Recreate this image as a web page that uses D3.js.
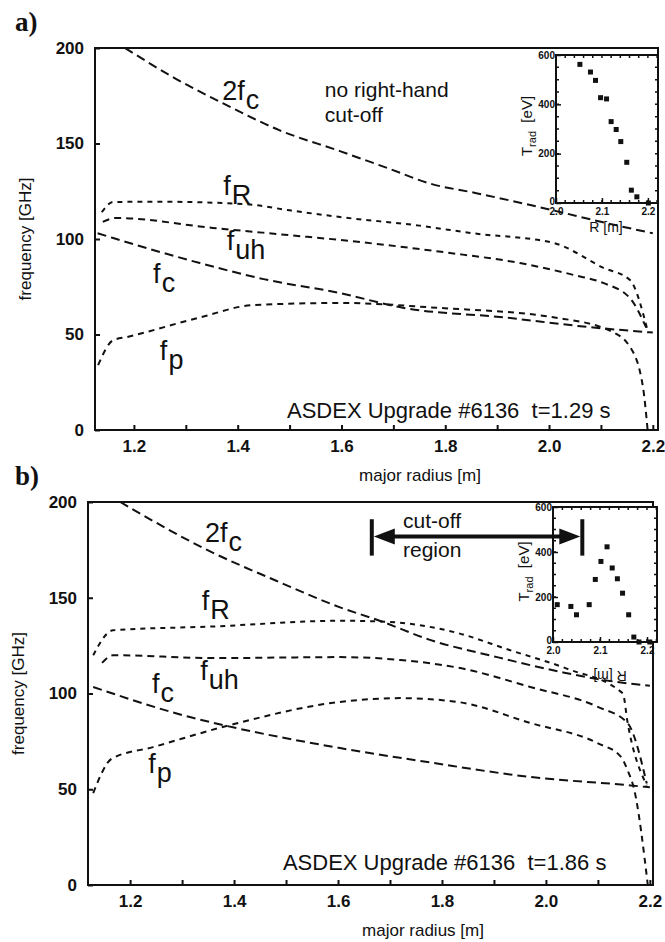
<!DOCTYPE html>
<html>
<head>
<meta charset="utf-8">
<script src="https://cdn.jsdelivr.net/npm/d3@7"></script>
<style>
  body { margin: 0; background: #fff; }
  text { font-family: "Liberation Sans", Arial, sans-serif; fill: #111; }
</style>
</head>
<body>
<div id="chart"></div>
<script>
const width = 665;
const height = 942;

// panel a) t=1.29 s : [major radius (m), frequency (GHz)]
const a2fc = [[1.183, 200], [1.28, 184], [1.372, 171], [1.48, 157], [1.597, 146], [1.69, 137],
    [1.771, 129], [1.86, 124], [1.944, 119], [2.008, 115], [2.1, 109], [2.2, 103]];
const aFR = [[1.138, 114], [1.16, 119.4], [1.25, 119.5], [1.414, 118.3], [1.5, 115], [1.597, 111.5],
    [1.75, 107], [1.853, 103], [2.008, 98], [2.104, 85], [2.156, 78.5], [2.19, 52]];
const aFuh = [[1.14, 109], [1.165, 111], [1.352, 105.8], [1.5, 102], [1.597, 99.5], [1.8, 93],
    [1.944, 87.4], [2.05, 81], [2.104, 77], [2.156, 69], [2.19, 52]];
const aFc = [[1.13, 103], [1.16, 100.5], [1.327, 87.4], [1.45, 79], [1.597, 71.7], [1.718, 64],
    [1.911, 59], [2.073, 54], [2.2, 51]];
const aFp = [[1.131, 34], [1.16, 47], [1.187, 48.7], [1.328, 59], [1.43, 65.4], [1.6, 66.5],
    [1.784, 64], [2.008, 59], [2.117, 52], [2.156, 43.5], [2.181, 22.5], [2.19, 0]];

// panel b) t=1.86 s
const b2fc = [[1.181, 200], [1.348, 175], [1.48, 159], [1.604, 145], [1.68, 138], [1.777, 128],
    [1.906, 119], [2.033, 111], [2.1, 107.5], [2.2, 104]];
const bFR = [[1.129, 120], [1.167, 133], [1.36, 135], [1.604, 138], [1.69, 137.5], [1.83, 131.6],
    [1.93, 122.7], [2.04, 113], [2.148, 100], [2.157, 85], [2.194, 52]];
const bFuh = [[1.146, 116], [1.167, 120], [1.36, 118.5], [1.604, 119], [1.72, 117.5], [1.84, 113],
    [1.97, 103.4], [2.1, 93], [2.157, 84.6], [2.194, 53]];
const bFc = [[1.129, 103.4], [1.315, 87.7], [1.379, 83.5], [1.604, 71.5], [1.777, 64],
    [1.97, 56.4], [2.163, 52], [2.2, 51]];
const bFp = [[1.129, 48], [1.165, 66], [1.244, 72], [1.392, 83.5], [1.604, 95.6], [1.72, 97.6],
    [1.83, 95.6], [1.97, 84.6], [2.1, 74], [2.144, 67], [2.157, 60], [2.17, 49.6], [2.196, 0]];

// insets: radiation temperature T_rad (eV) vs R (m)
const insetAR = [2.052, 2.075, 2.086, 2.097, 2.110, 2.120, 2.131, 2.141, 2.154, 2.164, 2.176, 2.201];
const insetAT = [562, 531, 497, 427, 422, 330, 298, 249, 165, 52, 25, 0];
const insetBR = [2.009, 2.038, 2.050, 2.077, 2.090, 2.102, 2.115, 2.126, 2.137, 2.148, 2.161, 2.172, 2.183, 2.206];
const insetBT = [166, 158, 121, 166, 278, 358, 423, 329, 281, 217, 121, 22, 0, 0];

const radiusTicks = [1.2, 1.3, 1.4, 1.5, 1.6, 1.7, 1.8, 1.9, 2.0, 2.1, 2.2];
const freqTicks = [0, 50, 100, 150, 200];
const insetRTicks = [2.0, 2.1, 2.2];
const insetTTicks = [0, 200, 400, 600];
const captions = ["ASDEX Upgrade #6136  t=1.29 s", "ASDEX Upgrade #6136  t=1.86 s"];
const cutoffRegion = [1.665, 2.07];

const dashes = { "2fc": "9,5", "fR": "5,5", "fuh": "7,5", "fc": "9,5", "fp": "6,5" };
const subs = { "2fc": ["2f", "c"], "fR": ["f", "R"], "fuh": ["f", "uh"], "fc": ["f", "c"], "fp": ["f", "p"] };

const svg = d3.select("#chart")
    .append("svg")
    .attr("width", width)
    .attr("height", height);

svg.append("rect").attr("width", width).attr("height", height).attr("fill", "#fff");

function drawPanel(p) {
    const x = d3.scaleLinear().domain(p.xDomain).range([p.left, p.right]);
    const y = d3.scaleLinear().domain([0, 200]).range([p.bottom, p.top]);
    const g = svg.append("g");

    g.append("clipPath").attr("id", "clip" + p.id)
        .append("rect")
        .attr("x", p.left).attr("y", p.top)
        .attr("width", p.right - p.left).attr("height", p.bottom - p.top);

    // dashed curves
    const line = d3.line()
        .x(d => x(d[0]))
        .y(d => y(d[1]))
        .curve(d3.curveMonotoneX);
    g.append("g").attr("clip-path", `url(#clip${p.id})`)
        .selectAll("path")
        .data(p.curves)
        .enter()
        .append("path")
        .attr("d", d => line(d.values))
        .attr("fill", "none")
        .attr("stroke", "#111")
        .attr("stroke-width", 2)
        .attr("stroke-dasharray", d => dashes[d.name]);

    // axes, ticks point inwards
    const xAxis = g.append("g")
        .attr("transform", `translate(0,${p.bottom})`)
        .call(d3.axisBottom(x).tickValues(radiusTicks).tickSizeInner(-5).tickSizeOuter(0).tickPadding(10)
            .tickFormat(d => Math.round(d * 10) % 2 === 0 ? d.toFixed(1) : ""));
    const yAxis = g.append("g")
        .attr("transform", `translate(${p.left},0)`)
        .call(d3.axisLeft(y).tickValues(freqTicks).tickSizeInner(-5).tickSizeOuter(0).tickPadding(11));
    [xAxis, yAxis].forEach(a => {
        a.select(".domain").remove();
        a.attr("font-family", null).attr("font-size", null);
        a.selectAll("line").attr("stroke", "#111").attr("stroke-width", 2);
        a.selectAll("text").style("font-size", "17px").style("font-weight", "bold");
    });

    // frame
    g.append("rect")
        .attr("x", p.left).attr("y", p.top)
        .attr("width", p.right - p.left).attr("height", p.bottom - p.top)
        .attr("fill", "none").attr("stroke", "#111").attr("stroke-width", 2);

    // axis titles
    g.append("text")
        .attr("transform", `translate(${p.left - 64},${(p.top + p.bottom) / 2}) rotate(-90)`)
        .attr("text-anchor", "middle")
        .style("font-size", "17px")
        .text("frequency [GHz]");
    g.append("text")
        .attr("x", p.xTitle).attr("y", p.bottom + 51)
        .attr("text-anchor", "middle")
        .style("font-size", "17px")
        .text("major radius [m]");

    // panel letter
    g.append("text")
        .attr("x", 15).attr("y", p.top - 17)
        .style("font-family", "'Liberation Serif', serif")
        .style("font-size", "27px")
        .style("font-weight", "bold")
        .text(p.id + ")");

    // curve names with subscripts
    p.labels.forEach(l => {
        const t = g.append("text")
            .attr("x", x(l.at[0])).attr("y", y(l.at[1]))
            .style("font-size", "27px");
        t.append("tspan").text(subs[l.name][0]);
        t.append("tspan").attr("dx", 1).attr("dy", 9).text(subs[l.name][1]);
    });

    g.append("text")
        .attr("x", x(p.caption[0])).attr("y", y(p.caption[1]))
        .style("font-size", "22px")
        .style("white-space", "pre")
        .text(p.captionText);

    return { x, y, g };
}

function drawInset(ins, rs, ts) {
    const x = d3.scaleLinear().domain(ins.xDomain).range([ins.left, ins.right]);
    const y = d3.scaleLinear().domain([0, 600]).range([ins.bottom, ins.top]);
    const g = svg.append("g");

    g.append("rect")
        .attr("x", ins.left).attr("y", ins.top)
        .attr("width", ins.right - ins.left).attr("height", ins.bottom - ins.top)
        .attr("fill", "#fff");

    // minor ticks on all four sides
    const minorR = d3.range(0, 12).map(i => 2.0 + i * 0.02);
    const minorT = d3.range(0, 13).map(i => i * 50);
    g.selectAll(".mx").data(minorR).enter().append("path")
        .attr("d", d => `M${x(d)},${ins.top}v3M${x(d)},${ins.bottom}v-3`)
        .attr("stroke", "#111").attr("stroke-width", 1.5);
    g.selectAll(".my").data(minorT).enter().append("path")
        .attr("d", d => `M${ins.left},${y(d)}h3M${ins.right},${y(d)}h-3`)
        .attr("stroke", "#111").attr("stroke-width", 1.5);

    const xa = g.append("g").attr("transform", `translate(0,${ins.bottom})`)
        .call(d3.axisBottom(x).tickValues(insetRTicks).tickSizeInner(-5).tickSizeOuter(0).tickPadding(5)
            .tickFormat(d3.format(".1f")));
    const ya = g.append("g").attr("transform", `translate(${ins.left},0)`)
        .call(d3.axisLeft(y).tickValues(insetTTicks).tickSizeInner(-5).tickSizeOuter(0).tickPadding(1));
    [xa, ya].forEach(a => {
        a.select(".domain").remove();
        a.attr("font-family", null).attr("font-size", null);
        a.selectAll("line").attr("stroke", "#111").attr("stroke-width", 1.5);
        a.selectAll("text").style("font-size", "10px").style("font-weight", "bold");
    });
    // lift the "0" label clear of the "2.0" label
    ya.selectAll("text").filter(d => d === 0).attr("dy", "0.1em");

    g.append("rect")
        .attr("x", ins.left).attr("y", ins.top)
        .attr("width", ins.right - ins.left).attr("height", ins.bottom - ins.top)
        .attr("fill", "none").attr("stroke", "#111").attr("stroke-width", 2);

    g.selectAll(".pt")
        .data(rs.map((r, i) => [r, ts[i]]))
        .enter()
        .append("rect")
        .attr("x", d => x(d[0]) - 2.5)
        .attr("y", d => y(d[1]) - 2.5)
        .attr("width", 5).attr("height", 5)
        .attr("fill", "#111");

    // T_rad [eV]
    const yl = g.append("text")
        .attr("transform", `translate(${ins.left - 24},${(ins.top + ins.bottom) / 2 - 3}) rotate(-90)`)
        .attr("text-anchor", "middle")
        .style("font-size", "15px");
    yl.append("tspan").text("T");
    yl.append("tspan").attr("dy", 4).style("font-size", "11px").text("rad");
    yl.append("tspan").attr("dy", -4).style("white-space", "pre").text("  [eV]");

    const rl = g.append("text")
        .attr("text-anchor", "middle")
        .style("font-size", "14px")
        .text("R [m]");
    if (ins.flipped) {
        // printed upside down in panel b
        rl.attr("transform", `translate(${ins.rLabel[0]},${ins.rLabel[1]}) rotate(180)`);
    } else {
        rl.attr("x", ins.rLabel[0]).attr("y", ins.rLabel[1]);
    }
}

// ---- panel a
const pa = drawPanel({
    id: "a", left: 95, right: 658, top: 48, bottom: 430,
    xDomain: [1.125, 2.21], xTitle: 420,
    curves: [
        { name: "2fc", values: a2fc }, { name: "fR", values: aFR }, { name: "fuh", values: aFuh },
        { name: "fc", values: aFc }, { name: "fp", values: aFp }],
    labels: [
        { name: "2fc", at: [1.37, 172.8] }, { name: "fR", at: [1.372, 123] },
        { name: "fuh", at: [1.379, 94.2] }, { name: "fc", at: [1.237, 77] },
        { name: "fp", at: [1.25, 36.6] }],
    caption: [1.495, 6.3], captionText: captions[0]
});
pa.g.append("text")
    .attr("x", pa.x(1.568)).attr("y", pa.y(174.3))
    .style("font-size", "21px")
    .text("no right-hand");
pa.g.append("text")
    .attr("x", pa.x(1.568)).attr("y", pa.y(161.3))
    .style("font-size", "21px")
    .text("cut-off");
drawInset({ left: 556, right: 658, top: 55, bottom: 203, xDomain: [2.0, 2.222], rLabel: [606, 232] },
    insetAR, insetAT);

// ---- panel b
const pb = drawPanel({
    id: "b", left: 88, right: 653, top: 502, bottom: 885,
    xDomain: [1.119, 2.206], xTitle: 423,
    curves: [
        { name: "2fc", values: b2fc }, { name: "fR", values: bFR }, { name: "fuh", values: bFuh },
        { name: "fc", values: bFc }, { name: "fp", values: bFp }],
    labels: [
        { name: "2fc", at: [1.344, 179.1] }, { name: "fR", at: [1.338, 143.6] },
        { name: "fuh", at: [1.335, 107] }, { name: "fc", at: [1.242, 100.3] },
        { name: "fp", at: [1.235, 58.5] }],
    caption: [1.494, 7.8], captionText: captions[1]
});
drawInset({ left: 553, right: 657, top: 507, bottom: 642, xDomain: [2.0, 2.2213], rLabel: [610, 671], flipped: true },
    insetBR, insetBT);

// cut-off region arrow, drawn over the inset
const arrow = svg.append("g");
const arrowY = pb.y(182);
const cx0 = pb.x(cutoffRegion[0]);
const cx1 = pb.x(cutoffRegion[1]);
arrow.append("line")
    .attr("x1", cx0 + 12).attr("x2", cx1 - 12)
    .attr("y1", arrowY).attr("y2", arrowY)
    .attr("stroke", "#111").attr("stroke-width", 4);
arrow.append("path")
    .attr("d", `M${cx0 + 2},${arrowY}l21,-8v16zM${cx1 - 2},${arrowY}l-21,-8v16z`)
    .attr("fill", "#111");
[cx0, cx1].forEach(cx => {
    arrow.append("line")
        .attr("x1", cx).attr("x2", cx)
        .attr("y1", pb.y(191)).attr("y2", pb.y(172))
        .attr("stroke", "#111").attr("stroke-width", 4);
});
arrow.append("text")
    .attr("x", pb.x(1.725)).attr("y", pb.y(186.4))
    .style("font-size", "21px")
    .text("cut-off");
arrow.append("text")
    .attr("x", pb.x(1.725)).attr("y", pb.y(171.3))
    .style("font-size", "21px")
    .text("region");
</script>
</body>
</html>
